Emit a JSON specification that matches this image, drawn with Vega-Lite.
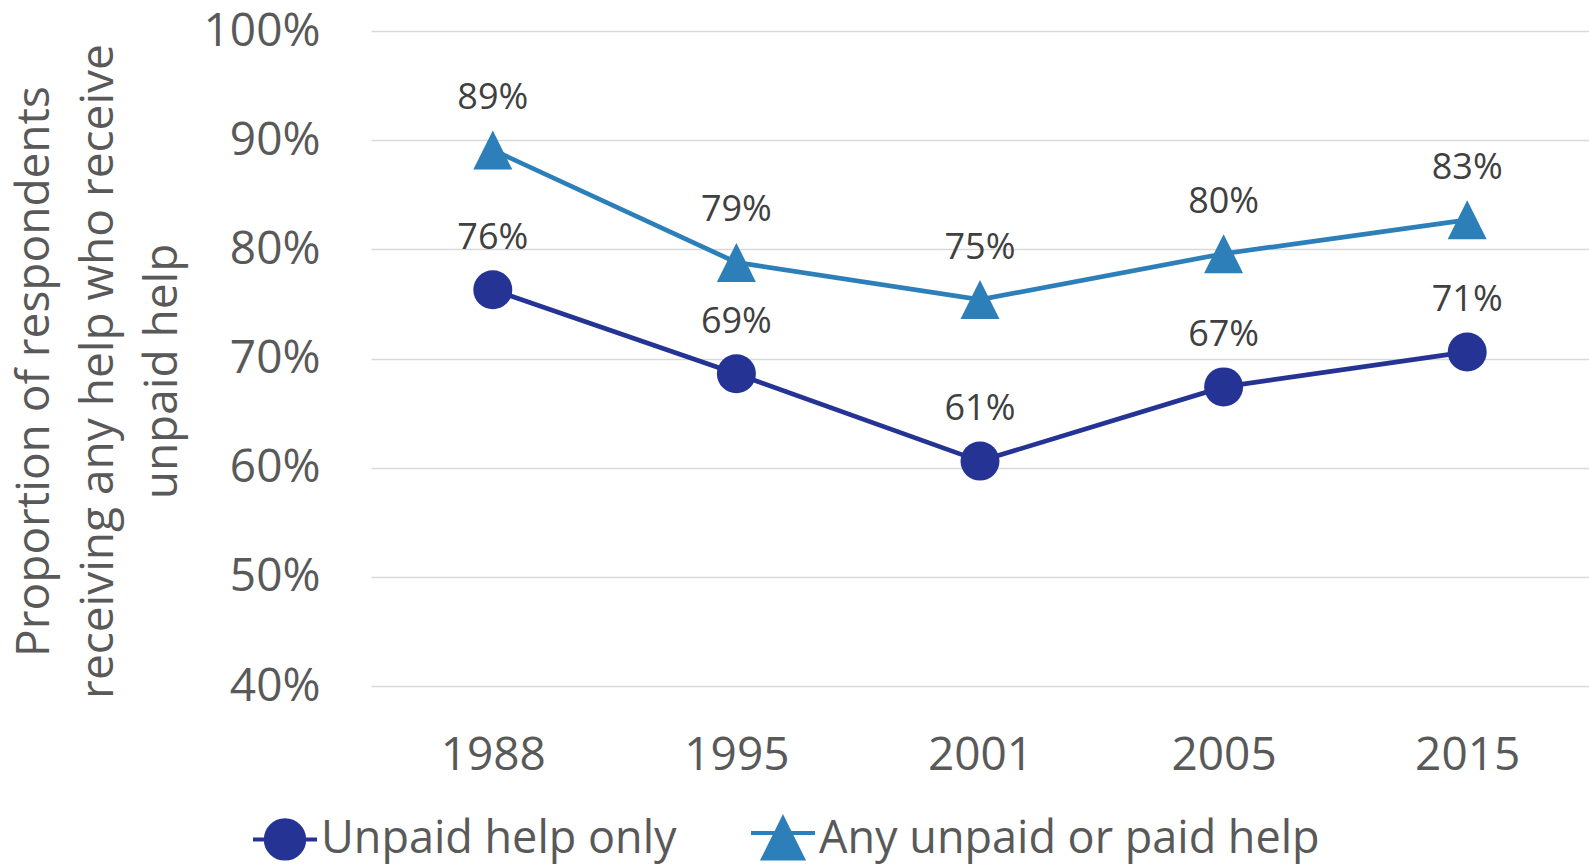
{
  "$schema": "https://vega.github.io/schema/vega-lite/v6.json",
  "autosize": "none",
  "width": 1218,
  "height": 655,
  "padding": {"left": 371, "top": 31, "right": 0, "bottom": 182},
  "background": "white",
  "config": {"font": "Open Sans", "view": {"stroke": null}},
  "data": {
    "values": [
      {"year": "1988", "series": "Unpaid help only", "value": 0.763},
      {"year": "1995", "series": "Unpaid help only", "value": 0.686},
      {"year": "2001", "series": "Unpaid help only", "value": 0.606},
      {"year": "2005", "series": "Unpaid help only", "value": 0.674},
      {"year": "2015", "series": "Unpaid help only", "value": 0.706},
      {"year": "1988", "series": "Any unpaid or paid help", "value": 0.891},
      {"year": "1995", "series": "Any unpaid or paid help", "value": 0.788},
      {"year": "2001", "series": "Any unpaid or paid help", "value": 0.754},
      {"year": "2005", "series": "Any unpaid or paid help", "value": 0.796},
      {"year": "2015", "series": "Any unpaid or paid help", "value": 0.827}
    ]
  },
  "resolve": {"legend": {"color": "independent", "shape": "independent", "stroke": "independent"}},
  "encoding": {
    "x": {
      "field": "year", "type": "ordinal", "sort": null,
      "scale": {"type": "point", "padding": 0.5},
      "axis": {"title": null, "labelAngle": 0, "labelFontSize": 46, "labelColor": "#595959", "labelPadding": 47, "ticks": false, "domain": false, "grid": false}
    },
    "y": {
      "field": "value", "type": "quantitative",
      "scale": {"domain": [0.4, 1], "nice": false, "zero": false},
      "axis": {
        "values": [0.4, 0.5, 0.6, 0.7, 0.8, 0.9, 1.0],
        "format": ".0%",
        "labelFontSize": 46, "labelColor": "#595959", "labelPadding": 51,
        "ticks": false, "domain": false,
        "gridColor": "#d9d9d9", "gridWidth": 1.5,
        "title": ["Proportion of respondents", "receiving any help who receive", "unpaid help"],
        "titleFontSize": 46, "titleFontWeight": "normal", "titleColor": "#595959",
        "titleAngle": -90, "titleBaseline": "middle", "titleAlign": "center",
        "titleX": -337, "titleY": 340, "titleLineHeight": 64, "titleLimit": 2000
      }
    },
    "color": {
      "field": "series", "type": "nominal",
      "scale": {"domain": ["Unpaid help only", "Any unpaid or paid help"], "range": ["#253494", "#2c7fb8"]},
      "legend": null
    }
  },
  "layer": [
    {"mark": {"type": "line", "strokeWidth": 4.7}},
    {
      "transform": [{"filter": "datum.series === 'Unpaid help only'"}],
      "mark": {"type": "point", "filled": true, "opacity": 1, "size": 1521, "shape": "circle"}
    },
    {
      "transform": [{"filter": "datum.series === 'Any unpaid or paid help'"}],
      "mark": {"type": "point", "filled": true, "opacity": 1, "size": 1521, "shape": "M0,-1L1,1L-1,1Z"}
    },
    {
      "mark": {"type": "text", "dy": -52, "fontSize": 36, "baseline": "middle"},
      "encoding": {
        "text": {"field": "value", "format": ".0%"},
        "color": {"value": "#404040"}
      }
    },
    {
      "transform": [{"filter": "datum.value > 5"}],
      "mark": {"type": "point", "filled": true, "opacity": 1, "strokeWidth": 4},
      "encoding": {
        "color": {
          "field": "series", "type": "nominal",
          "legend": {
            "orient": "none", "legendX": -120, "legendY": 774, "direction": "horizontal",
            "title": null, "padding": 0, "symbolSize": 4096, "symbolStrokeWidth": 4, "symbolOpacity": 1,
            "labelFontSize": 45, "labelColor": "#595959", "labelOffset": 2, "labelLimit": 2000,
            "columnPadding": 66
          }
        },
        "stroke": {
          "field": "series", "type": "nominal",
          "scale": {"domain": ["Unpaid help only", "Any unpaid or paid help"], "range": ["#253494", "#2c7fb8"]},
          "legend": {
            "orient": "none", "legendX": -120, "legendY": 774, "direction": "horizontal",
            "title": null, "padding": 0, "symbolSize": 4096, "symbolStrokeWidth": 4, "symbolOpacity": 1,
            "labelFontSize": 45, "labelColor": "#595959", "labelOffset": 2, "labelLimit": 2000,
            "columnPadding": 66
          }
        },
        "shape": {
          "field": "series", "type": "nominal",
          "scale": {
            "domain": ["Unpaid help only", "Any unpaid or paid help"],
            "range": ["M-1,0H1M0.6,0A0.6,0.6 0 1,1 -0.6,0A0.6,0.6 0 1,1 0.6,0Z", "M-1,-0.2H1M0,-0.65L0.62,0.6L-0.62,0.6Z"]
          },
          "legend": {
            "orient": "none", "legendX": -120, "legendY": 774, "direction": "horizontal",
            "title": null, "padding": 0, "symbolSize": 4096, "symbolStrokeWidth": 4, "symbolOpacity": 1,
            "labelFontSize": 45, "labelColor": "#595959", "labelOffset": 2, "labelLimit": 2000,
            "columnPadding": 66
          }
        }
      }
    }
  ]
}
